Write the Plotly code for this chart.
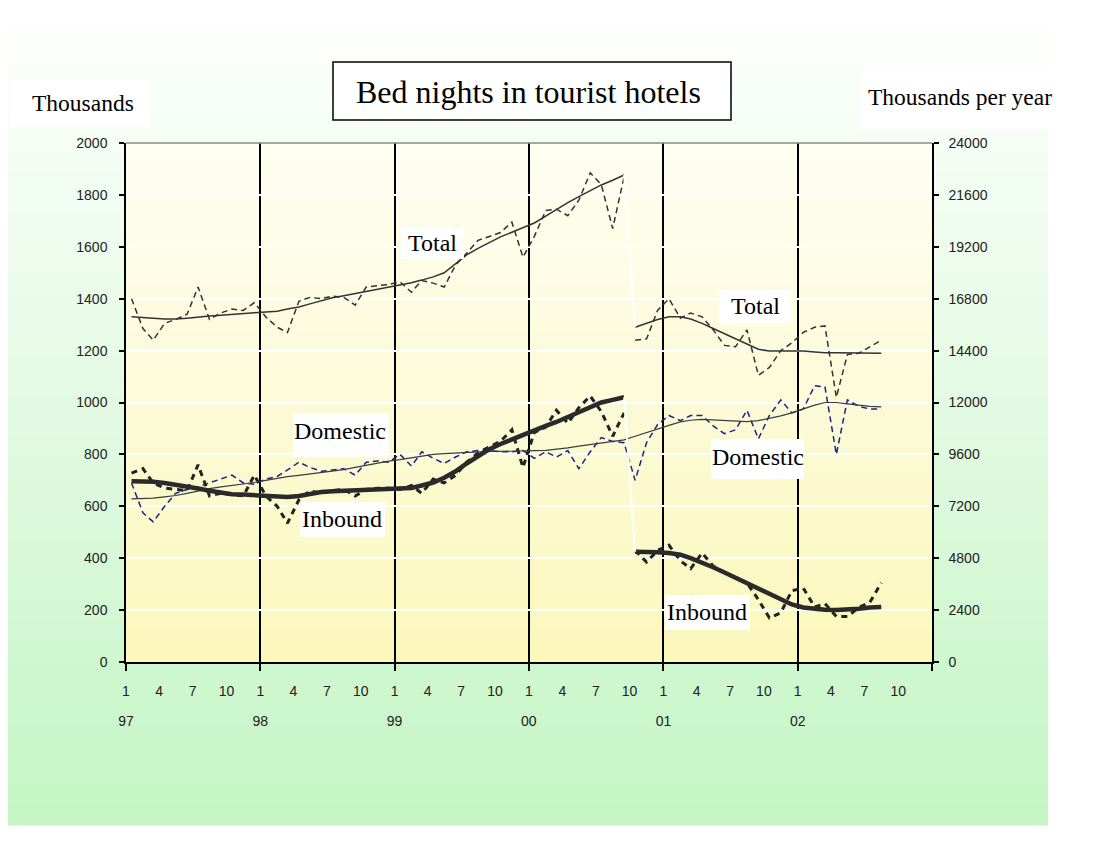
import numpy as np
import pandas as pd
import plotly.graph_objects as go

# ---------------- data (thousands of bed nights) ----------------
months_a = pd.date_range("1997-01-01", periods=45, freq="MS") + pd.Timedelta(days=15)  # Jan 97 - Sep 00
months_b = pd.date_range("2000-10-01", periods=23, freq="MS") + pd.Timedelta(days=15)  # Oct 00 - Aug 02
months_all = months_a.append(months_b)

# monthly values (left axis, thousands)
total_a = [1400, 1285, 1240, 1305, 1320, 1340, 1445, 1320, 1345, 1360, 1355, 1385,
           1330, 1290, 1270, 1390, 1405, 1400, 1410, 1405, 1375, 1445, 1450, 1455,
           1465, 1425, 1470, 1460, 1445, 1530, 1575, 1625, 1640, 1655, 1695, 1560,
           1640, 1740, 1745, 1720, 1780, 1885, 1840, 1670, 1870]
total_b = [1240, 1245, 1355, 1400, 1325, 1345, 1330, 1280, 1220, 1215, 1280, 1105,
           1135, 1200, 1230, 1270, 1290, 1295, 1020, 1185, 1190, 1215, 1240]

domestic = [690, 575, 540, 600, 650, 665, 675, 690, 705, 720, 690, 685,
            705, 715, 740, 770, 750, 735, 740, 745, 720, 770, 775, 770,
            800, 755, 810, 785, 765, 790, 810, 815, 815, 810, 810, 815,
            785, 810, 790, 815, 745, 810, 865, 850, 845,
            700, 845, 915, 950, 930, 950, 950, 910, 880, 895, 970, 860,
            950, 1010, 960, 975, 1065, 1060, 800, 1010, 985, 975, 975]

inbound_a = [728, 745, 690, 670, 665, 660, 760, 640, 650, 645, 640, 720,
             640, 600, 535, 625, 660, 650, 660, 665, 640, 665, 670, 670,
             665, 680, 650, 705, 690, 720, 770, 805, 830, 850, 895, 750,
             885, 905, 970, 920, 980, 1025, 965, 870, 960]
inbound_b = [430, 385, 430, 450, 390, 360, 420, 370, 345, 325, 305, 240,
             170, 190, 275, 285, 212, 225, 175, 175, 210, 230, 305]

# trends (right axis, thousands per year)
total_trend_a = [15960, 15940, 15900, 15860, 15860, 15900, 15960, 16000, 16030, 16080, 16120, 16150,
                 16180, 16220, 16320, 16420, 16560, 16700, 16840, 16940, 17040, 17160, 17260, 17340,
                 17440, 17540, 17660, 17810, 18000, 18400, 18830, 19130, 19390, 19660, 19870, 20090,
                 20300, 20620, 20930, 21240, 21520, 21790, 22060, 22280, 22520]
total_trend_b = [15480, 15660, 15840, 15960, 15960, 15860, 15660, 15420, 15180, 14940, 14700, 14460,
                 14380, 14380, 14380, 14380, 14340, 14300, 14300, 14300, 14280, 14280, 14280]

domestic_trend = [7540, 7560, 7580, 7640, 7700, 7800, 7920, 8020, 8100, 8160, 8230, 8300,
                  8400, 8500, 8570, 8630, 8690, 8760, 8830, 8900, 9000, 9100, 9190, 9290,
                  9360, 9440, 9540, 9600, 9640, 9670, 9700, 9720, 9740, 9740, 9740, 9740,
                  9770, 9790, 9840, 9900, 9980, 10060, 10130, 10200, 10270,
                  10440, 10620, 10780, 10940, 11100, 11180, 11220, 11200, 11160, 11140, 11120, 11160,
                  11260, 11380, 11520, 11700, 11880, 12000, 12000, 11940, 11880, 11820, 11800]

inbound_trend_a = [8360, 8360, 8340, 8280, 8210, 8100, 8020, 7920, 7820, 7760, 7740, 7700,
                   7660, 7630, 7630, 7680, 7780, 7860, 7900, 7920, 7960, 7990, 8020, 8040,
                   8040, 8050, 8160, 8300, 8520, 8820, 9180, 9540, 9840, 10080, 10300, 10500,
                   10720, 10920, 11100, 11340, 11580, 11820, 12000, 12120, 12240]
inbound_trend_b = [5100, 5100, 5080, 5040, 4960, 4800, 4600, 4380, 4140, 3900, 3660, 3420,
                   3140, 2900, 2660, 2520, 2460, 2420, 2400, 2420, 2460, 2520, 2540]

year_ticks = pd.date_range("1997-01-01", "2003-01-01", freq="YS")
year_labels = ["97", "98", "99", "00", "01", "02", ""]
month_ticks = pd.date_range("1997-01-01", "2002-10-01", freq="QS")
month_labels = [str(d.month) for d in month_ticks]

left_ticks = list(range(0, 2001, 200))
right_ticks = list(range(0, 24001, 2400))

# ---------------- geometry (page pixels; the page body has an 8px margin) ----------------
BODY = 8
W, H = 1099 - 2 * BODY, 849 - 2 * BODY
L, R, T, B = 126, 932, 143, 662  # plot area in page pixels


def px(x):
    return (x - L) / (R - L)


def py(y):
    return (B - y) / (B - T)


def mix(c0, c1, f):
    return "rgb(%d,%d,%d)" % tuple(round(a + (b - a) * f) for a, b in zip(c0, c1))


shapes = []
# outer gradient (white -> light green)
n = 40
y_top, y_bot = 8, 825
for k in range(n):
    y0 = y_top + (y_bot - y_top) * k / n
    y1 = y_top + (y_bot - y_top) * (k + 1) / n + 0.6
    shapes.append(dict(type="rect", xref="paper", yref="paper", layer="below",
                       x0=px(8), x1=px(1048), y0=py(y1), y1=py(y0),
                       fillcolor=mix((255, 255, 255), (196, 245, 196), (k + 0.5) / n),
                       line=dict(width=0)))
# plot area gradient (cream -> pale yellow)
n2 = 30
for k in range(n2):
    shapes.append(dict(type="rect", xref="paper", yref="paper", layer="below",
                       x0=0, x1=1, y0=1 - (k + 1) / n2 - 0.002, y1=1 - k / n2,
                       fillcolor=mix((254, 254, 242), (251, 247, 188), (k + 0.5) / n2),
                       line=dict(width=0)))
# top border of plot area
shapes.append(dict(type="line", xref="paper", yref="paper", x0=0, x1=1, y0=1, y1=1,
                   line=dict(color="#8a8a8a", width=1.5), layer="above"))


def box(x0, y0, x1, y1, border=False):
    shapes.append(dict(type="rect", xref="paper", yref="paper", layer="above",
                       x0=px(x0), x1=px(x1), y0=py(y1), y1=py(y0), fillcolor="white",
                       line=dict(color="black" if border else "white", width=1.5 if border else 0)))


box(333, 62, 731, 120, border=True)   # title
box(10, 80, 150, 127)                 # Thousands
box(860, 70, 1057, 130)               # Thousands per year
box(401, 227, 464, 259)               # Total
box(719, 290, 791, 323)               # Total
box(293, 413, 389, 457)               # Domestic
box(711, 439, 804, 479)               # Domestic
box(300, 502, 385, 537)               # Inbound
box(665, 595, 750, 630)               # Inbound

serif = "Liberation Serif, Times New Roman, serif"
annotations = []


def text(s, x, y, size=24, anchor="center"):
    annotations.append(dict(text=s, xref="paper", yref="paper", x=px(x), y=py(y),
                            xanchor=anchor, yanchor="middle", showarrow=False,
                            font=dict(family=serif, size=size, color="black")))


text("Bed nights in tourist hotels", 354, 92, size=32, anchor="left")
text("Thousands", 30, 103, size=23.5, anchor="left")
text("Thousands per year", 866, 97, size=23.5, anchor="left")
text("Total", 432, 243)
text("Total", 755, 306)
text("Domestic", 340, 431)
text("Domestic", 758, 457)
text("Inbound", 342, 519)
text("Inbound", 707, 612)

# ---------------- traces ----------------
fig = go.Figure()
DARK = "#333333"

fig.add_trace(go.Scatter(x=months_a, y=total_a, mode="lines",
                         line=dict(color=DARK, width=1.5, dash="6px,4px")))
fig.add_trace(go.Scatter(x=months_b, y=total_b, mode="lines",
                         line=dict(color=DARK, width=1.5, dash="6px,4px")))
fig.add_trace(go.Scatter(x=months_all, y=domestic, mode="lines",
                         line=dict(color="#1f1f8f", width=1.5, dash="6px,4px")))
fig.add_trace(go.Scatter(x=months_a, y=inbound_a, mode="lines",
                         line=dict(color="#222222", width=3, dash="6px,5px")))
fig.add_trace(go.Scatter(x=months_b, y=inbound_b, mode="lines",
                         line=dict(color="#222222", width=3, dash="6px,5px")))

fig.add_trace(go.Scatter(x=months_all, y=domestic_trend, mode="lines", yaxis="y2",
                         line=dict(color="#3c3c3c", width=1.2)))
fig.add_trace(go.Scatter(x=months_a, y=total_trend_a, mode="lines", yaxis="y2",
                         line=dict(color=DARK, width=1.5)))
fig.add_trace(go.Scatter(x=months_b, y=total_trend_b, mode="lines", yaxis="y2",
                         line=dict(color=DARK, width=1.5)))
fig.add_trace(go.Scatter(x=months_a, y=inbound_trend_a, mode="lines", yaxis="y2",
                         line=dict(color="#2a2a2a", width=4.5)))
fig.add_trace(go.Scatter(x=months_b, y=inbound_trend_b, mode="lines", yaxis="y2",
                         line=dict(color="#2a2a2a", width=4.5)))
# white connectors across the series break
fig.add_trace(go.Scatter(x=[months_a[-1], months_b[0]], y=[total_trend_a[-1], total_trend_b[0]],
                         mode="lines", yaxis="y2", line=dict(color="white", width=2)))
fig.add_trace(go.Scatter(x=[months_a[-1], months_b[0]], y=[inbound_trend_a[-1], inbound_trend_b[0]],
                         mode="lines", yaxis="y2", line=dict(color="white", width=2)))
# carrier for the month-label axis
fig.add_trace(go.Scatter(x=[month_ticks[0]], y=[None], xaxis="x2", mode="lines",
                         hoverinfo="skip"))

tickfont = dict(family="Liberation Sans, Arial, sans-serif", size=14, color="#222222")
xrange = ["1997-01-01", "2003-01-01"]

fig.update_layout(
    width=W, height=H,
    margin=dict(l=L - BODY, r=W - (R - BODY), t=T - BODY, b=H - (B - BODY), pad=0),
    paper_bgcolor="white",
    plot_bgcolor="rgba(0,0,0,0)",
    showlegend=False,
    shapes=shapes,
    annotations=annotations,
    xaxis=dict(type="date", range=xrange, tickmode="array", tickvals=year_ticks,
               ticktext=year_labels, ticks="outside", ticklen=7, tickwidth=1.5,
               tickcolor="black", showline=True, linecolor="black", linewidth=1.5,
               showgrid=True, gridcolor="black", gridwidth=1.5, zeroline=False,
               tickfont=tickfont, ticklabelstandoff=38),
    xaxis2=dict(type="date", range=xrange, overlaying="x", anchor="y", side="bottom",
                tickmode="array", tickvals=month_ticks, ticktext=month_labels,
                ticks="", showline=False, showgrid=False, zeroline=False,
                tickfont=tickfont, ticklabelstandoff=19),
    yaxis=dict(range=[0, 2000], tickmode="array", tickvals=left_ticks, ticks="outside",
               ticklen=5, tickcolor="black", tickwidth=1.5, showline=True,
               linecolor="black", linewidth=1.5, showgrid=True, gridcolor="white",
               gridwidth=1.5, zeroline=False, tickfont=tickfont, ticklabelstandoff=9),
    yaxis2=dict(range=[0, 24000], overlaying="y", side="right", tickmode="array",
                tickvals=right_ticks, tickformat="d", ticks="outside", ticklen=5,
                tickcolor="black", tickwidth=1.5, showline=True, linecolor="black",
                linewidth=1.5, showgrid=False, zeroline=False, tickfont=tickfont,
                ticklabelstandoff=7),
)

fig.write_html("out.html")
